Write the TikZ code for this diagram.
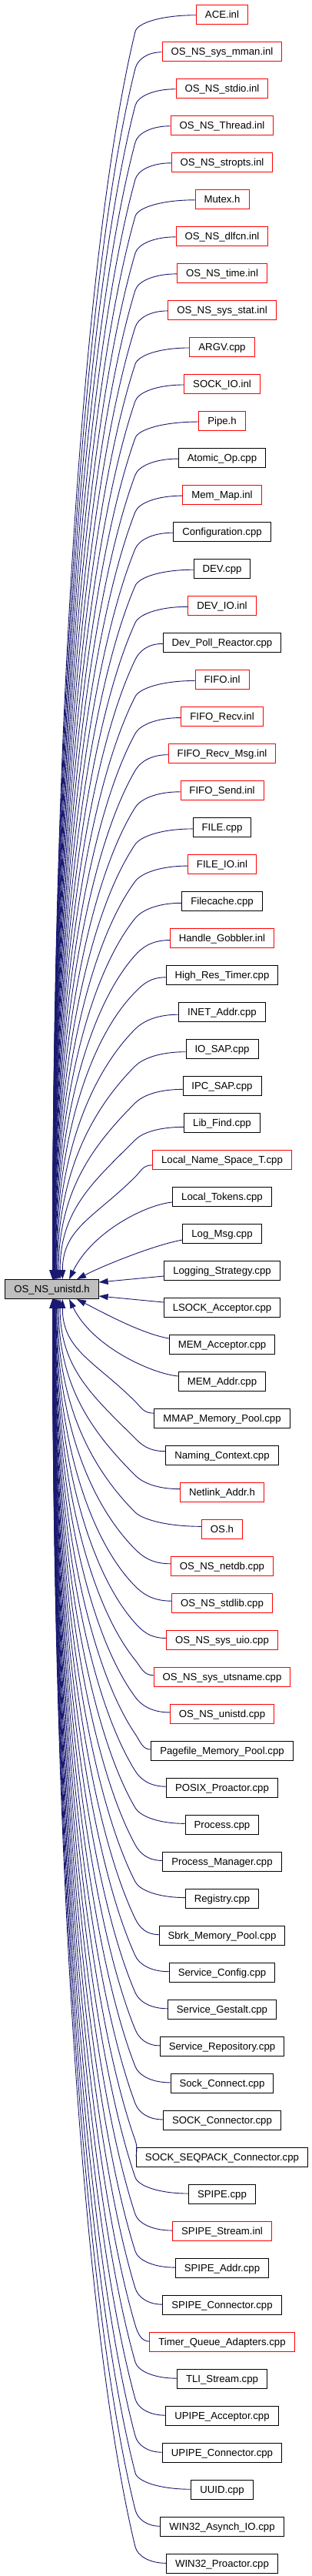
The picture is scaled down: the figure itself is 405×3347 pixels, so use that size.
\documentclass[tikz,border=0pt]{standalone}
\usepackage{fontspec}
\setmainfont{Liberation Sans}
\usetikzlibrary{arrows.meta,calc}
\definecolor{edgeblue}{HTML}{191970}
\definecolor{maingray}{HTML}{BFBFBF}
\tikzset{
  filebox/.style={draw, line width=0.9pt, fill=white, minimum height=25pt,
    inner xsep=11.5pt, inner ysep=0pt, font=\fontsize{13.2}{16}\selectfont,
    text height=9.6pt, text depth=0pt},
  redbox/.style={filebox, draw=red},
  blackbox/.style={filebox, draw=black},
  mainbox/.style={filebox, draw=black, fill=maingray},
  depline/.style={draw=edgeblue, line width=0.9pt,
    {Triangle[length=12pt,width=8pt,fill=edgeblue]}-}
}
\begin{document}
\begin{tikzpicture}[x=1pt,y=-1pt]
\useasboundingbox (0,0) rectangle (405,3347);
\node[mainbox] (main) at (67.5,1675) {OS\_NS\_unistd.h};
\foreach \lbl/\sty [count=\i from 0] in {
ACE.inl/redbox, OS\_NS\_sys\_mman.inl/redbox, OS\_NS\_stdio.inl/redbox,
OS\_NS\_Thread.inl/redbox, OS\_NS\_stropts.inl/redbox, Mutex.h/redbox,
OS\_NS\_dlfcn.inl/redbox, OS\_NS\_time.inl/redbox, OS\_NS\_sys\_stat.inl/redbox,
ARGV.cpp/redbox, SOCK\_IO.inl/redbox, Pipe.h/redbox, Atomic\_Op.cpp/blackbox,
Mem\_Map.inl/redbox, Configuration.cpp/blackbox, DEV.cpp/blackbox,
DEV\_IO.inl/redbox, Dev\_Poll\_Reactor.cpp/blackbox, FIFO.inl/redbox,
FIFO\_Recv.inl/redbox, FIFO\_Recv\_Msg.inl/redbox, FIFO\_Send.inl/redbox,
FILE.cpp/blackbox, FILE\_IO.inl/redbox, Filecache.cpp/blackbox,
Handle\_Gobbler.inl/redbox, High\_Res\_Timer.cpp/blackbox, INET\_Addr.cpp/blackbox,
IO\_SAP.cpp/blackbox, IPC\_SAP.cpp/blackbox, Lib\_Find.cpp/blackbox,
Local\_Name\_Space\_T.cpp/redbox, Local\_Tokens.cpp/blackbox, Log\_Msg.cpp/blackbox,
Logging\_Strategy.cpp/blackbox, LSOCK\_Acceptor.cpp/blackbox,
MEM\_Acceptor.cpp/blackbox, MEM\_Addr.cpp/blackbox, MMAP\_Memory\_Pool.cpp/blackbox,
Naming\_Context.cpp/blackbox, Netlink\_Addr.h/redbox, OS.h/redbox,
OS\_NS\_netdb.cpp/redbox, OS\_NS\_stdlib.cpp/redbox, OS\_NS\_sys\_uio.cpp/redbox,
OS\_NS\_sys\_utsname.cpp/redbox, OS\_NS\_unistd.cpp/redbox,
Pagefile\_Memory\_Pool.cpp/blackbox, POSIX\_Proactor.cpp/blackbox,
Process.cpp/blackbox, Process\_Manager.cpp/blackbox, Registry.cpp/blackbox,
Sbrk\_Memory\_Pool.cpp/blackbox, Service\_Config.cpp/blackbox,
Service\_Gestalt.cpp/blackbox, Service\_Repository.cpp/blackbox,
Sock\_Connect.cpp/blackbox, SOCK\_Connector.cpp/blackbox,
SOCK\_SEQPACK\_Connector.cpp/blackbox, SPIPE.cpp/blackbox, SPIPE\_Stream.inl/redbox,
SPIPE\_Addr.cpp/blackbox, SPIPE\_Connector.cpp/blackbox,
Timer\_Queue\_Adapters.cpp/redbox, TLI\_Stream.cpp/blackbox,
UPIPE\_Acceptor.cpp/blackbox, UPIPE\_Connector.cpp/blackbox, UUID.cpp/blackbox,
WIN32\_Asynch\_IO.cpp/blackbox, WIN32\_Proactor.cpp/blackbox}{
  \pgfmathsetmacro{\yi}{19+48*\i}
  \node[\sty] (n\i) at (289,\yi) {\lbl};
}
\foreach \i in {0,...,69}{
  \pgfmathtruncatemacro{\kk}{abs(2*\i-69)}
  \pgfmathsetmacro{\k}{\kk/2}
  \pgfmathsetmacro{\s}{ifthenelse(\i<35,1,-1)}
  \ifnum\i<35 \def\side{north}\else\def\side{south}\fi
  \ifnum\kk=1
    \draw[depline] ($(main.east)+(0,-\s*9)$) -- ($(n\i.west)+(0,\s*7)$);
  \else\ifnum\kk=3
    \coordinate (E) at ($(main.\side)+(32.5,0)$);
    \coordinate (W) at ($(n\i.west)+(0,\s*8)$);
    \draw[depline] (E) .. controls ($(E)+(35,-\s*18)$) and ($(W)+(-35,\s*6)$) .. (W);
  \else\ifnum\kk=5
    \coordinate (E) at ($(main.\side)+(22.5,0)$);
    \coordinate (W) at ($(n\i.west)+(0,\s*7)$);
    \draw[depline] (E) .. controls ($(E)+(30,-\s*62)$) and ($(W)+(-34,\s*3)$) .. (W);
  \else
    \pgfmathsetmacro{\yi}{19+48*\i}
    \pgfmathsetmacro{\ex}{67+50/\k}
    \pgfmathsetmacro{\ey}{ifthenelse(\i<35,1662.5,1687.5)}
    \pgfmathsetmacro{\by}{\yi+\s*22}
    \pgfmathsetmacro{\D}{abs(\ey-\by)}
    \pgfmathsetmacro{\al}{0.55*(176-\ex)}
    \pgfmathsetmacro{\be}{max(0.15*\D,\al)}
    \pgfmathsetmacro{\sh}{\s*min(8,24/\k)}
    \coordinate (W) at ($(n\i.west)+(0,\sh)$);
    \coordinate (B) at (176,\by);
    \coordinate (M) at ($(W)!0.55!(B)$);
    \coordinate (P1) at (176-\al,\by+\s*\be);
    \coordinate (C2) at ($(B)!-12pt!(P1)$);
    \coordinate (P2) at (\ex,\ey-\s*0.5*\D);
    \coordinate (E) at ($(main.\side)+(\ex-67.5,0)$);
    \draw[depline] (E) .. controls (P2) and (P1) .. (B) .. controls (C2) and (M |- W) .. (W);
  \fi\fi\fi
}
\end{tikzpicture}
\end{document}
